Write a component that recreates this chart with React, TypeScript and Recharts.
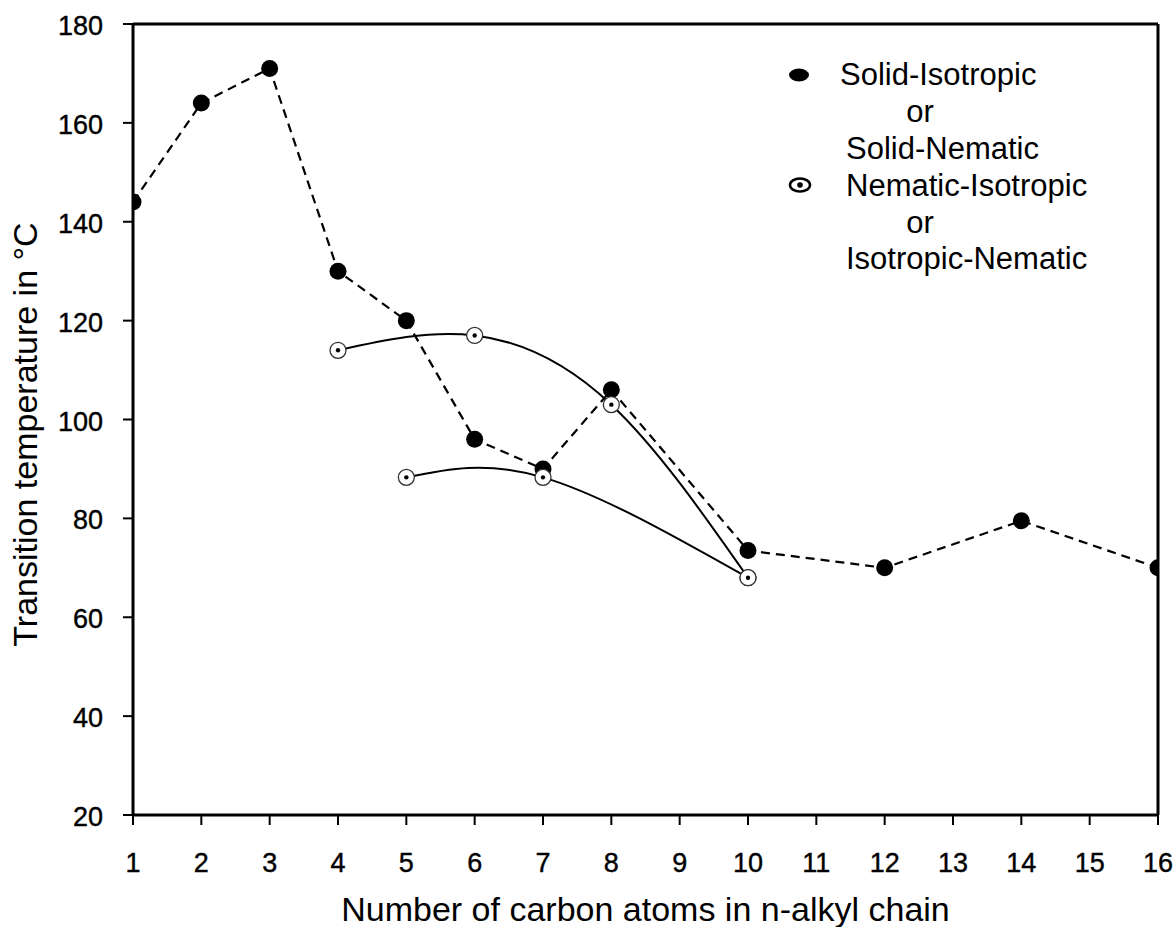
import React from 'react';
import { LineChart, Line, XAxis, YAxis, ReferenceLine, Customized, Label } from 'recharts';

const carbonSolid = [1, 2, 3, 4, 5, 6, 7, 8, 10, 12, 14, 16];
const tempSolid = [144, 164, 171, 130, 120, 96, 90, 106, 73.5, 70, 79.5, 70];

const carbonNematicA = [4, 6, 8, 10];
const tempNematicA = [114, 117, 103, 68];

const carbonNematicB = [5, 7, 10];
const tempNematicB = [88.3, 88.3, 68];

const xTicks = [1, 2, 3, 4, 5, 6, 7, 8, 9, 10, 11, 12, 13, 14, 15, 16];
const yTicks = [20, 40, 60, 80, 100, 120, 140, 160, 180];

const legendLines = ['Solid-Isotropic', 'or', 'Solid-Nematic', 'Nematic-Isotropic', 'or', 'Isotropic-Nematic'];

const solidData = carbonSolid.map((x, i) => ({ x, y: tempSolid[i] }));
const nemAData = carbonNematicA.map((x, i) => ({ x, y: tempNematicA[i] }));
const nemBData = carbonNematicB.map((x, i) => ({ x, y: tempNematicB[i] }));

const FONT = '"Liberation Sans", Arial, Helvetica, sans-serif';

const FilledDot = (props: any) => {
  const { cx, cy, index } = props;
  if (cx == null || cy == null) return null;
  return <circle key={`f${index}`} cx={cx} cy={cy} r={8.5} fill="#000" />;
};

const OpenDot = (props: any) => {
  const { cx, cy, index } = props;
  if (cx == null || cy == null) return null;
  return (
    <g key={`o${index}`}>
      <circle cx={cx} cy={cy} r={8} fill="#fff" stroke="#333" strokeWidth={1.3} />
      <circle cx={cx} cy={cy} r={2.2} fill="#000" />
    </g>
  );
};

const XTick = (props: any) => {
  const { x, y, payload } = props;
  return (
    <text x={x} y={y + 47} textAnchor="middle" fontFamily={FONT} fontSize={27} fill="#000" stroke="#000" strokeWidth={0.4}>
      {payload.value}
    </text>
  );
};

const YTick = (props: any) => {
  const { x, y, payload } = props;
  return (
    <text x={x - 20} y={y + 11} textAnchor="end" fontFamily={FONT} fontSize={27} fill="#000" stroke="#000" strokeWidth={0.4}>
      {payload.value}
    </text>
  );
};

const LegendBlock = () => {
  const baselines = [85, 122, 159, 196, 233, 269];
  return (
    <g fontFamily={FONT} fontSize={31} fill="#000">
      <ellipse cx={799} cy={75} rx={10} ry={6.5} fill="#000" />
      <ellipse cx={800} cy={185} rx={10} ry={6.5} fill="#fff" stroke="#000" strokeWidth={2.5} />
      <circle cx={800} cy={185} r={2.8} fill="#000" />
      {legendLines.map((t, i) =>
        t === 'or' ? (
          <text key={i} x={920} y={baselines[i]} textAnchor="middle">{t}</text>
        ) : (
          <text key={i} x={i === 0 ? 840 : 846} y={baselines[i]}>{t}</text>
        )
      )}
    </g>
  );
};

export default function App() {
  return (
    <div style={{ position: 'absolute', left: 0, top: 0, background: '#fff' }}>
      <LineChart width={1176} height={927} margin={{ top: 24, right: 18, bottom: 0, left: 0 }}>
        <XAxis
          type="number"
          dataKey="x"
          domain={[1, 16]}
          ticks={xTicks}
          interval={0}
          allowDataOverflow
          height={112}
          tickSize={10}
          tickMargin={0}
          stroke="#000"
          axisLine={{ stroke: '#000', strokeWidth: 3 }}
          tickLine={{ stroke: '#000', strokeWidth: 2 }}
          tick={XTick}
        >
          <Label
            content={(p: any) => {
              const vb = p.viewBox || {};
              return (
                <text x={vb.x + vb.width / 2} y={921} textAnchor="middle" fontFamily={FONT} fontSize={34} fill="#000">
                  Number of carbon atoms in n-alkyl chain
                </text>
              );
            }}
          />
        </XAxis>
        <YAxis
          type="number"
          domain={[20, 180]}
          ticks={yTicks}
          interval={0}
          width={133}
          tickSize={10}
          tickMargin={0}
          stroke="#000"
          axisLine={{ stroke: '#000', strokeWidth: 3 }}
          tickLine={{ stroke: '#000', strokeWidth: 2 }}
          tick={YTick}
        >
          <Label
            content={(p: any) => {
              const vb = p.viewBox || {};
              const cy = vb.y + vb.height / 2 + 15;
              return (
                <text x={37} y={cy} transform={`rotate(-90 37 ${cy})`} textAnchor="middle" fontFamily={FONT} fontSize={34} fill="#000">
                  Transition temperature in °C
                </text>
              );
            }}
          />
        </YAxis>
        <ReferenceLine y={180} stroke="#000" strokeWidth={3} />
        <ReferenceLine x={16} stroke="#000" strokeWidth={3} />
        <Line
          data={solidData}
          dataKey="y"
          type="linear"
          stroke="#000"
          strokeWidth={2.2}
          strokeDasharray="9 6"
          dot={FilledDot}
          activeDot={false}
          isAnimationActive={false}
        />
        <Line
          data={nemAData}
          dataKey="y"
          type="natural"
          stroke="#000"
          strokeWidth={2}
          dot={OpenDot}
          activeDot={false}
          isAnimationActive={false}
        />
        <Line
          data={nemBData}
          dataKey="y"
          type="natural"
          stroke="#000"
          strokeWidth={2}
          dot={OpenDot}
          activeDot={false}
          isAnimationActive={false}
        />
        <Customized component={LegendBlock} />
      </LineChart>
    </div>
  );
}
